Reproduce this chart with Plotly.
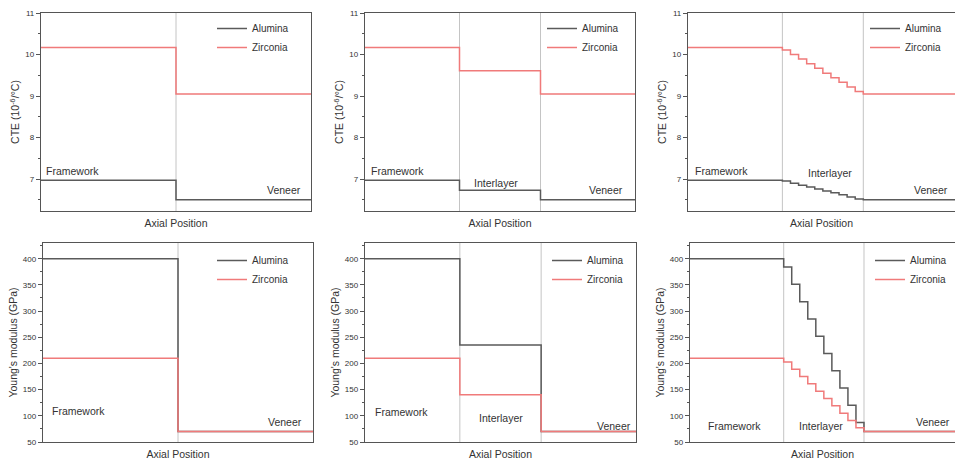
import plotly.graph_objects as go

# ---- axial layer boundaries (normalised axial coordinate) ----
two_layer_x = [0.0, 0.5, 1.0]
three_layer_x = [0.0, 0.35, 0.65, 1.0]
graded_x = [0.0, 0.35, 0.38, 0.41, 0.44, 0.47, 0.50, 0.53, 0.56, 0.59, 0.62, 0.65, 1.0]

two_layer_dividers = [0.5]
three_layer_dividers = [0.35, 0.65]

# ---- CTE (10^-6/°C), one value per layer ----
cte_alumina_two = [6.97, 6.50]
cte_zirconia_two = [10.17, 9.05]
cte_alumina_three = [6.97, 6.73, 6.50]
cte_zirconia_three = [10.17, 9.61, 9.05]
cte_alumina_graded = [6.97, 6.95, 6.90, 6.85, 6.81, 6.76, 6.71, 6.67, 6.62, 6.57, 6.52, 6.50]
cte_zirconia_graded = [10.17, 10.11, 10.00, 9.89, 9.78, 9.67, 9.55, 9.44, 9.33, 9.22, 9.11, 9.05]

# ---- Young's modulus (GPa), one value per layer ----
e_alumina_two = [400, 70]
e_zirconia_two = [210, 70]
e_alumina_three = [400, 235, 70]
e_zirconia_three = [210, 140, 70]
e_alumina_graded = [400, 384, 351, 318, 285, 252, 219, 186, 153, 120, 87, 70]
e_zirconia_graded = [210, 203, 189, 175, 161, 147, 133, 119, 105, 91, 77, 70]

# ---- region labels: (text, x, y, anchor) ----
cte_labels_two = [("Framework", 0.011, 7.19, "left"), ("Veneer", 0.90, 6.74, "center")]
cte_labels_three = [("Framework", 0.015, 7.20, "left"), ("Interlayer", 0.487, 6.90, "center"),
                    ("Veneer", 0.893, 6.74, "center")]
cte_labels_graded = [("Framework", 0.018, 7.20, "left"), ("Interlayer", 0.526, 7.15, "center"),
                     ("Veneer", 0.90, 6.74, "center")]
e_labels_two = [("Framework", 0.026, 109, "left"), ("Veneer", 0.896, 88, "center")]
e_labels_three = [("Framework", 0.030, 107, "left"), ("Interlayer", 0.50, 95, "center"),
                  ("Veneer", 0.917, 80, "center")]
e_labels_graded = [("Framework", 0.165, 80, "center"), ("Interlayer", 0.49, 80, "center"),
                   ("Veneer", 0.907, 89, "center")]

ALUMINA_COLOR = "#5a5a5a"
ZIRCONIA_COLOR = "#f07a7a"
FRAME_COLOR = "#555555"
TEXT_COLOR = "#333333"
FONT = "Liberation Sans, Arial, sans-serif"

W, H = 955, 466

# plot-area boxes in pixels: (left, right, top, bottom)
panels = [
    dict(box=(41, 311, 13, 211), x=two_layer_x, al=cte_alumina_two, zr=cte_zirconia_two,
         div=two_layer_dividers, labels=cte_labels_two, kind="cte", xmax=1.0, leg=(212, 14)),
    dict(box=(365, 635, 13, 211), x=three_layer_x, al=cte_alumina_three, zr=cte_zirconia_three,
         div=three_layer_dividers, labels=cte_labels_three, kind="cte", xmax=1.0, leg=(542, 14)),
    dict(box=(688, 955, 13, 211), x=graded_x, al=cte_alumina_graded, zr=cte_zirconia_graded,
         div=three_layer_dividers, labels=cte_labels_graded, kind="cte", xmax=0.99, leg=(865, 14)),
    dict(box=(43, 313, 243, 442), x=two_layer_x, al=e_alumina_two, zr=e_zirconia_two,
         div=two_layer_dividers, labels=e_labels_two, kind="e", xmax=1.0, leg=(212, 246)),
    dict(box=(365, 636, 243, 442), x=three_layer_x, al=e_alumina_three, zr=e_zirconia_three,
         div=three_layer_dividers, labels=e_labels_three, kind="e", xmax=1.0, leg=(547, 246)),
    dict(box=(690, 955, 243, 442), x=graded_x, al=e_alumina_graded, zr=e_zirconia_graded,
         div=three_layer_dividers, labels=e_labels_graded, kind="e", xmax=0.99, leg=(870, 246)),
]

fig = go.Figure()
layout = dict(
    width=W, height=H,
    margin=dict(l=0, r=0, t=0, b=0),
    paper_bgcolor="white", plot_bgcolor="white",
    font=dict(family=FONT, color=TEXT_COLOR, size=9),
    annotations=[], shapes=[],
)


def step_values(seg):
    # repeat the last layer value so the final step reaches the right edge
    return list(seg) + [seg[-1]]


for i, p in enumerate(panels, start=1):
    sfx = "" if i == 1 else str(i)
    xa, ya = "x" + sfx, "y" + sfx
    leg = "legend" + sfx
    left, right, top, bottom = p["box"]

    for name, vals, color in (("Alumina", p["al"], ALUMINA_COLOR), ("Zirconia", p["zr"], ZIRCONIA_COLOR)):
        fig.add_trace(go.Scatter(
            x=p["x"], y=step_values(vals), mode="lines", name=name,
            line=dict(color=color, width=1.5, shape="hv"),
            xaxis=xa, yaxis=ya, legend=leg, showlegend=True, cliponaxis=True,
        ))

    if p["kind"] == "cte":
        yrange, dtick, minor = [6.23, 11], 1, 0.5
        ytitle = "CTE (10<sup>-6</sup>/°C)"
    else:
        yrange, dtick, minor = [50, 430], 50, 25
        ytitle = "Young's modulus (GPa)"

    layout["xaxis" + sfx] = dict(
        domain=[left / W, right / W], range=[0, p["xmax"]], anchor=ya,
        showline=True, linecolor=FRAME_COLOR, linewidth=1.4, mirror=True,
        showgrid=False, zeroline=False, showticklabels=False, ticks="",
        title=dict(text="Axial Position", font=dict(size=10.5, color=TEXT_COLOR), standoff=8),
        automargin=False, fixedrange=True,
    )
    layout["yaxis" + sfx] = dict(
        domain=[1 - bottom / H, 1 - top / H], range=yrange, anchor=xa,
        showline=True, linecolor=FRAME_COLOR, linewidth=1.4, mirror=True,
        showgrid=False, zeroline=False, dtick=dtick,
        ticks="outside", ticklen=4, tickwidth=1, tickcolor=FRAME_COLOR,
        tickfont=dict(size=8, color=TEXT_COLOR),
        minor=dict(dtick=minor, ticks="outside", ticklen=2, tickcolor=FRAME_COLOR, showgrid=False),
        title=dict(text=ytitle, font=dict(size=10.5, color=TEXT_COLOR), standoff=3),
        automargin=False, fixedrange=True,
    )
    lx, ly = p["leg"]
    layout[leg] = dict(
        x=lx / W, y=1 - ly / H, xanchor="left", yanchor="top",
        bgcolor="rgba(0,0,0,0)", borderwidth=0,
        font=dict(size=10, color=TEXT_COLOR), itemwidth=30,
    )

    for xd in p["div"]:
        layout["shapes"].append(dict(
            type="line", xref=xa, yref=ya + " domain", x0=xd, x1=xd, y0=0, y1=1,
            line=dict(color="#c4c4c4", width=1), layer="below",
        ))

    for text, xv, yv, anchor in p["labels"]:
        layout["annotations"].append(dict(
            text=text, x=xv, y=yv, xref=xa, yref=ya, xanchor=anchor, yanchor="middle",
            showarrow=False, font=dict(size=10.5, color=TEXT_COLOR),
        ))

fig.update_layout(**layout)
fig.write_html("out.html")
